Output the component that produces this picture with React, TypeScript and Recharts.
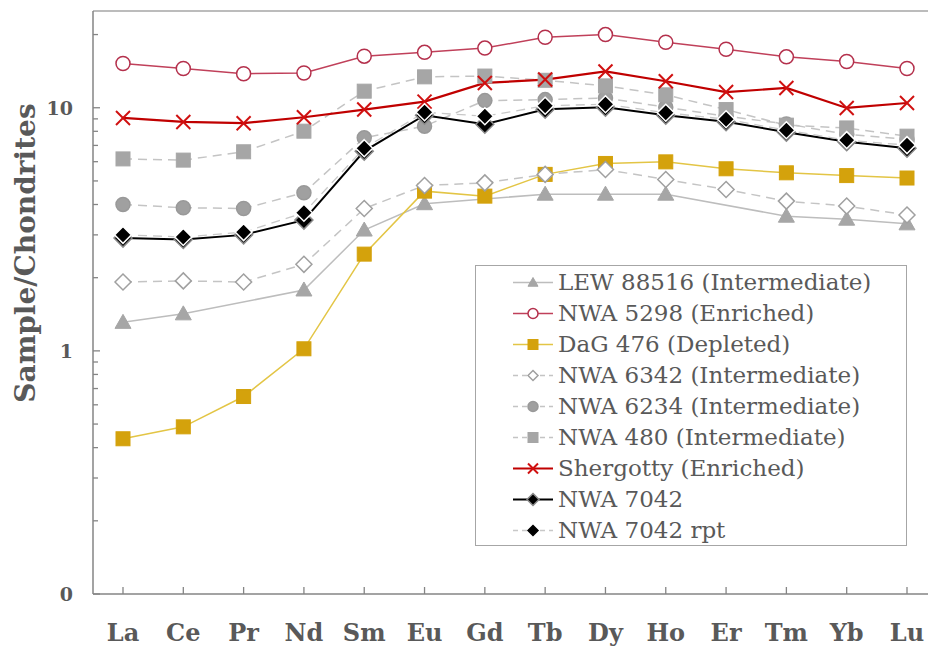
import React from "react";
import {
  LineChart,
  Line,
  XAxis,
  YAxis,
  Legend,
  ReferenceLine,
  Label,
} from "recharts";

const ELEMENTS = ["La", "Ce", "Pr", "Nd", "Sm", "Eu", "Gd", "Tb", "Dy", "Ho", "Er", "Tm", "Yb", "Lu"];

const LEW_88516 = [1.31, 1.42, null, 1.78, 3.14, 4.03, null, 4.41, 4.41, 4.41, null, 3.58, 3.48, 3.33];
const NWA_5298 = [15.2, 14.5, 13.8, 13.9, 16.3, 16.9, 17.6, 19.5, 20.0, 18.6, 17.4, 16.2, 15.5, 14.5];
const DAG_476 = [0.435, 0.487, 0.649, 1.02, 2.5, 4.54, 4.33, 5.32, 5.9, 5.99, 5.61, 5.4, 5.26, 5.14];
const NWA_6342 = [1.92, 1.94, 1.92, 2.27, 3.85, 4.79, 4.91, 5.32, 5.57, 5.07, 4.61, 4.13, 3.94, 3.62];
const NWA_6234 = [4.0, 3.88, 3.85, 4.47, 7.52, 8.4, 10.7, 10.8, 10.97, 10.05, 9.23, 8.58, 7.78, 7.42];
const NWA_480 = [6.16, 6.09, 6.59, 8.01, 11.7, 13.4, 13.5, 12.97, 12.3, 11.3, 9.83, 8.48, 8.26, 7.64];
const SHERGOTTY = [9.08, 8.74, 8.64, 9.14, 9.83, 10.6, 12.65, 13.06, 14.1, 12.85, 11.6, 12.06, 9.98, 10.46];
const NWA_7042 = [2.91, 2.87, 3.0, 3.45, 6.63, 9.32, 8.55, 9.86, 10.05, 9.32, 8.76, 7.93, 7.25, 6.82];
const NWA_7042_RPT = [3.0, 2.94, 3.08, 3.7, 6.82, 9.58, 9.23, 10.19, 10.34, 9.54, 8.97, 8.08, 7.36, 7.02];

const Y_MAJOR = [0.1, 1, 10];
const Y_MINOR = [0.2, 0.3, 0.4, 0.5, 0.6, 0.7, 0.8, 0.9, 2, 3, 4, 5, 6, 7, 8, 9, 20];

const TEXT = "#595959";
const AXIS = "#858585";
const FONT = "'DejaVu Serif', serif";

type Shape = "triangle" | "circle" | "square" | "diamond" | "x";

type Series = {
  key: string;
  name: string;
  values: (number | null)[];
  stroke: string;
  width: number;
  dash?: string;
  shape: Shape;
  size: number;
  fill: string;
  mstroke: string;
  legendSize: number;
};

const SERIES: Series[] = [
  { key: "lew", name: "LEW 88516 (Intermediate)", values: LEW_88516, stroke: "#bdbdbd", width: 1.5, shape: "triangle", size: 8, fill: "#a6a6a6", mstroke: "#a6a6a6", legendSize: 5 },
  { key: "n5298", name: "NWA 5298 (Enriched)", values: NWA_5298, stroke: "#c0405a", width: 1.5, shape: "circle", size: 7, fill: "#ffffff", mstroke: "#b4304c", legendSize: 5 },
  { key: "dag", name: "DaG 476 (Depleted)", values: DAG_476, stroke: "#e3c545", width: 1.5, shape: "square", size: 7, fill: "#d4a20c", mstroke: "#d4a20c", legendSize: 5 },
  { key: "n6342", name: "NWA 6342 (Intermediate)", values: NWA_6342, stroke: "#c4c4c4", width: 1.5, dash: "9 6", shape: "diamond", size: 8, fill: "#ffffff", mstroke: "#a0a0a0", legendSize: 5 },
  { key: "n6234", name: "NWA 6234 (Intermediate)", values: NWA_6234, stroke: "#c4c4c4", width: 1.5, dash: "9 6", shape: "circle", size: 7, fill: "#a0a0a0", mstroke: "#999999", legendSize: 5 },
  { key: "n480", name: "NWA 480 (Intermediate)", values: NWA_480, stroke: "#c4c4c4", width: 1.5, dash: "9 6", shape: "square", size: 7, fill: "#a6a6a6", mstroke: "#a6a6a6", legendSize: 5 },
  { key: "sher", name: "Shergotty (Enriched)", values: SHERGOTTY, stroke: "#c00000", width: 2.2, shape: "x", size: 7, fill: "none", mstroke: "#d01010", legendSize: 5 },
  { key: "n7042", name: "NWA 7042", values: NWA_7042, stroke: "#000000", width: 2, shape: "diamond", size: 9, fill: "#000000", mstroke: "#8a8a8a", legendSize: 6 },
  { key: "rpt", name: "NWA 7042 rpt", values: NWA_7042_RPT, stroke: "#c8c8c8", width: 1.3, dash: "9 6", shape: "diamond", size: 8.5, fill: "#000000", mstroke: "#ffffff", legendSize: 5 },
];

const data = ELEMENTS.map((el, i) => {
  const row: Record<string, string | number | null> = { el };
  for (const s of SERIES) row[s.key] = s.values[i];
  return row;
});

function Marker({ shape, cx, cy, size, fill, stroke }: { shape: Shape; cx: number; cy: number; size: number; fill: string; stroke: string }) {
  const s = size;
  if (shape === "triangle") {
    return <polygon points={`${cx},${cy - s} ${cx + s},${cy + s * 0.75} ${cx - s},${cy + s * 0.75}`} fill={fill} stroke={stroke} strokeWidth={1} />;
  }
  if (shape === "circle") {
    return <circle cx={cx} cy={cy} r={s} fill={fill} stroke={stroke} strokeWidth={1.5} />;
  }
  if (shape === "square") {
    return <rect x={cx - s} y={cy - s} width={s * 2} height={s * 2} fill={fill} stroke={stroke} strokeWidth={1} />;
  }
  if (shape === "diamond") {
    return <polygon points={`${cx},${cy - s} ${cx + s},${cy} ${cx},${cy + s} ${cx - s},${cy}`} fill={fill} stroke={stroke} strokeWidth={1.5} />;
  }
  return (
    <g stroke={stroke} strokeWidth={2}>
      <line x1={cx - s} y1={cy - s} x2={cx + s} y2={cy + s} />
      <line x1={cx - s} y1={cy + s} x2={cx + s} y2={cy - s} />
    </g>
  );
}

const makeDot = (s: Series) => (props: any) => {
  const { cx, cy, index } = props;
  if (cx == null || cy == null || s.values[index] == null) return <g key={`${s.key}-${index}`} />;
  return (
    <g key={`${s.key}-${index}`}>
      <Marker shape={s.shape} cx={cx} cy={cy} size={s.size} fill={s.fill} stroke={s.mstroke} />
    </g>
  );
};

const XTick = (props: any) => {
  const { x, y, payload } = props;
  return (
    <g>
      <line x1={x} x2={x} y1={y} y2={y - 7} stroke={AXIS} strokeWidth={1.3} />
      <text x={x} y={y + 47} textAnchor="middle" fill={TEXT} fontFamily={FONT} fontWeight="bold" fontSize={24}>
        {payload.value}
      </text>
    </g>
  );
};

const YTick = (props: any) => {
  const { x, y, payload } = props;
  const major = Y_MAJOR.includes(payload.value);
  return (
    <g>
      <line x1={x} x2={x + (major ? 7 : 5)} y1={y} y2={y} stroke={AXIS} strokeWidth={1.3} />
      {major && (
        <text x={x - 20} y={y} dy="0.36em" textAnchor="end" fill={TEXT} fontFamily={FONT} fontWeight="bold" fontSize={19}>
          {payload.value < 1 ? "0" : String(payload.value)}
        </text>
      )}
    </g>
  );
};

const renderLegend = () => (
  <div
    style={{
      border: "1.5px solid #a6a6a6",
      background: "#ffffff",
      boxSizing: "border-box",
      width: 432,
      height: 281,
      paddingTop: 1,
      fontFamily: FONT,
      fontSize: 23,
      color: TEXT,
    }}
  >
    {SERIES.map((s) => (
      <div key={s.key} style={{ display: "flex", alignItems: "center", height: 31, whiteSpace: "nowrap" }}>
        <svg width={82} height={31} style={{ flex: "none" }}>
          <line x1={37} x2={77} y1={15.5} y2={15.5} stroke={s.stroke} strokeWidth={s.width} strokeDasharray={s.dash ? "5 4" : undefined} />
          <Marker shape={s.shape} cx={57} cy={15.5} size={s.legendSize} fill={s.fill} stroke={s.key === "rpt" ? "#000" : s.mstroke} />
        </svg>
        <span style={{ lineHeight: "31px" }}>{s.name}</span>
      </div>
    ))}
  </div>
);

export default function App() {
  return (
    <div style={{ position: "fixed", left: 0, top: 0, width: 928, height: 646, overflow: "hidden", background: "#fff" }}>
      <LineChart width={937} height={646} data={data} margin={{ top: 11, right: 0, left: 0, bottom: 0 }}>
        <XAxis
          dataKey="el"
          height={52}
          padding={{ left: 30, right: 30 }}
          tickSize={0}
          tickMargin={0}
          tickLine={false}
          interval={0}
          axisLine={{ stroke: AXIS, strokeWidth: 1.5 }}
          tick={<XTick />}
        />
        <YAxis
          type="number"
          scale="log"
          domain={[0.1, 25]}
          allowDataOverflow
          ticks={[...Y_MAJOR, ...Y_MINOR].sort((a, b) => a - b)}
          interval={0}
          width={93}
          tickSize={0}
          tickMargin={0}
          tickLine={false}
          axisLine={{ stroke: AXIS, strokeWidth: 1.5 }}
          tick={<YTick />}
        >
          <Label
            content={() => (
              <text
                x={0}
                y={0}
                transform="translate(35 253) rotate(-90)"
                textAnchor="middle"
                fill={TEXT}
                fontFamily={FONT}
                fontWeight="bold"
                fontSize={28}
              >
                Sample/Chondrites
              </text>
            )}
          />
        </YAxis>
        <ReferenceLine y={25} stroke="#a6a6a6" strokeWidth={1.5} />
        <Legend
          layout="horizontal"
          verticalAlign="middle"
          align="center"
          content={renderLegend}
          wrapperStyle={{ left: 475, top: 265, width: 432, height: 281 }}
        />
        {SERIES.map((s) => (
          <Line
            key={s.key}
            dataKey={s.key}
            name={s.name}
            stroke={s.stroke}
            strokeWidth={s.width}
            strokeDasharray={s.dash}
            connectNulls
            dot={makeDot(s)}
            activeDot={false}
            isAnimationActive={false}
          />
        ))}
      </LineChart>
    </div>
  );
}
